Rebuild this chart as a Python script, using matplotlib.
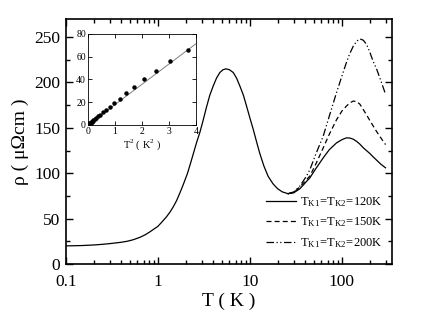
import matplotlib
matplotlib.use("Agg")
import matplotlib.pyplot as plt
import numpy as np
from matplotlib.ticker import MultipleLocator, LogLocator, NullFormatter

plt.rcParams['font.family'] = ['Liberation Serif', 'DejaVu Serif']
plt.rcParams['mathtext.fontset'] = 'custom'
plt.rcParams['mathtext.rm'] = 'Liberation Serif'

# common low-temperature part of rho(T)
t_low = [0.1, 0.15, 0.2, 0.234, 0.3, 0.4, 0.47, 0.54, 0.64, 0.73, 0.82, 0.92,
         1.0, 1.1, 1.24, 1.36, 1.47, 1.6, 1.73, 1.88, 2.1, 2.25, 2.42, 2.62,
         2.86, 3.1, 3.38, 3.67, 3.99, 4.35, 4.72, 5.1, 5.5, 6.0, 6.59, 7.15,
         7.79, 8.5, 9.2, 10, 10.9, 11.8, 12.8, 14.2, 15.8, 17.8, 20, 22.5, 26]
rho_low = [20, 20.4, 21, 21.5, 22.5, 24, 25.2, 26.8, 29.5, 32.3, 35.5, 39,
           41.5, 46, 52, 57.5, 63, 70, 78, 87, 100, 110, 121, 133,
           145, 158, 173, 186, 196, 205, 211, 214, 215, 214, 211, 205,
           196, 186, 174, 161, 148, 135, 122, 108, 96.6, 88.5, 83, 79.5, 77.5]

# high-temperature branches
t_high = [26, 30, 35, 41.3, 44.9, 52, 62.7, 73, 87.5, 100, 112, 122, 133, 145,
          157, 171, 185, 200, 219, 238, 265, 298]
rho_120 = [77.5, 78.5, 83, 91, 95, 105, 117, 126, 133.5, 137, 139, 138.8,
           137.5, 135, 132, 128, 125, 122, 118, 114.5, 110, 106]
rho_150 = [77.5, 79, 85, 93, 97, 110, 128, 143, 159, 168.5, 174, 177.5,
           179.5, 179, 176, 170, 164.5, 158.5, 152, 146, 139, 131.6]
rho_200 = [77.5, 79.5, 86, 97, 104, 121, 141, 163, 189, 207, 222, 232,
           240, 245.5, 248, 246.5, 242, 234, 223, 215, 202, 187]
labels = [r'$\mathrm{T_{K1}\!=\!T_{K2}\!=\!120K}$',
          r'$\mathrm{T_{K1}\!=\!T_{K2}\!=\!150K}$',
          r'$\mathrm{T_{K1}\!=\!T_{K2}\!=\!200K}$']

# inset: rho vs T^2
t2 = [3.7, 3.03, 2.5, 2.07, 1.7, 1.41, 1.18, 0.96, 0.8, 0.66, 0.55, 0.45,
      0.37, 0.3, 0.25, 0.2, 0.17, 0.14, 0.11, 0.09, 0.075, 0.06, 0.05,
      0.04, 0.03, 0.025, 0.02, 0.015, 0.01]
rho_t2 = [66, 56, 47, 40, 33, 28, 23, 19, 16, 13, 11, 9, 7.5, 6, 5, 4, 3.3,
          2.7, 2.2, 1.8, 1.5, 1.2, 1.0, 0.8, 0.6, 0.5, 0.4, 0.3, 0.2]
fit_x = [0, 4]
fit_y = [0, 71.5]

fig = plt.figure(figsize=(4.36, 3.26), dpi=100)
ax = fig.add_axes([0.151, 0.19, 0.748, 0.752])

ax.plot(t_low, rho_low, color='black', lw=0.9)
ax.plot(t_high, rho_120, color='black', lw=0.9, ls='-', label=labels[0])
ax.plot(t_high, rho_150, color='black', lw=0.9, ls=(0, (4, 2.5)), label=labels[1])
ax.plot(t_high, rho_200, color='black', lw=0.9, ls=(0, (6, 2, 1, 2, 1, 2)),
        label=labels[2])

ax.set_xscale('log')
ax.set_xlim(0.1, 350)
ax.set_ylim(0, 270)
ax.set_xticks([0.1, 1, 10, 100])
ax.set_xticklabels(['0.1', '1', '10', '100'])
ax.xaxis.set_minor_locator(LogLocator(base=10, subs=np.arange(2, 10)))
ax.xaxis.set_minor_formatter(NullFormatter())
ax.yaxis.set_major_locator(MultipleLocator(50))
ax.yaxis.set_minor_locator(MultipleLocator(25))
ax.tick_params(which='both', direction='in', top=True, right=True,
               labelsize=12.5, width=1)
ax.tick_params(which='major', length=5, pad=4)
ax.tick_params(axis='x', which='major', pad=7)
ax.tick_params(which='minor', length=3)
for s in ax.spines.values():
    s.set_linewidth(1.2)

ax.set_xlabel('T ( K )', fontsize=14, labelpad=2)
ax.set_ylabel('ρ ( μΩcm )', fontsize=14, labelpad=4)

ax.legend(loc='upper left', bbox_to_anchor=(0.615, 0.282), frameon=False,
          fontsize=9, handlelength=2.4, handletextpad=0.3, labelspacing=0.55,
          borderpad=0, borderaxespad=0)

# inset
ins = fig.add_axes([0.202, 0.617, 0.248, 0.279])
ins.plot(fit_x, fit_y, color='gray', lw=0.7)
ins.plot(t2, rho_t2, 'o', color='black', ms=2.2)
ins.set_xlim(0, 4)
ins.set_ylim(0, 80)
ins.xaxis.set_major_locator(MultipleLocator(1))
ins.yaxis.set_major_locator(MultipleLocator(20))
ins.tick_params(direction='in', top=True, right=True, labelsize=7,
                length=3, width=0.6, pad=1.5)
for s in ins.spines.values():
    s.set_linewidth(0.6)
ins.set_xlabel('T$^{2}$ ( K$^{2}$ )', fontsize=7.5, labelpad=1)

fig.savefig('out.png', dpi=100)
